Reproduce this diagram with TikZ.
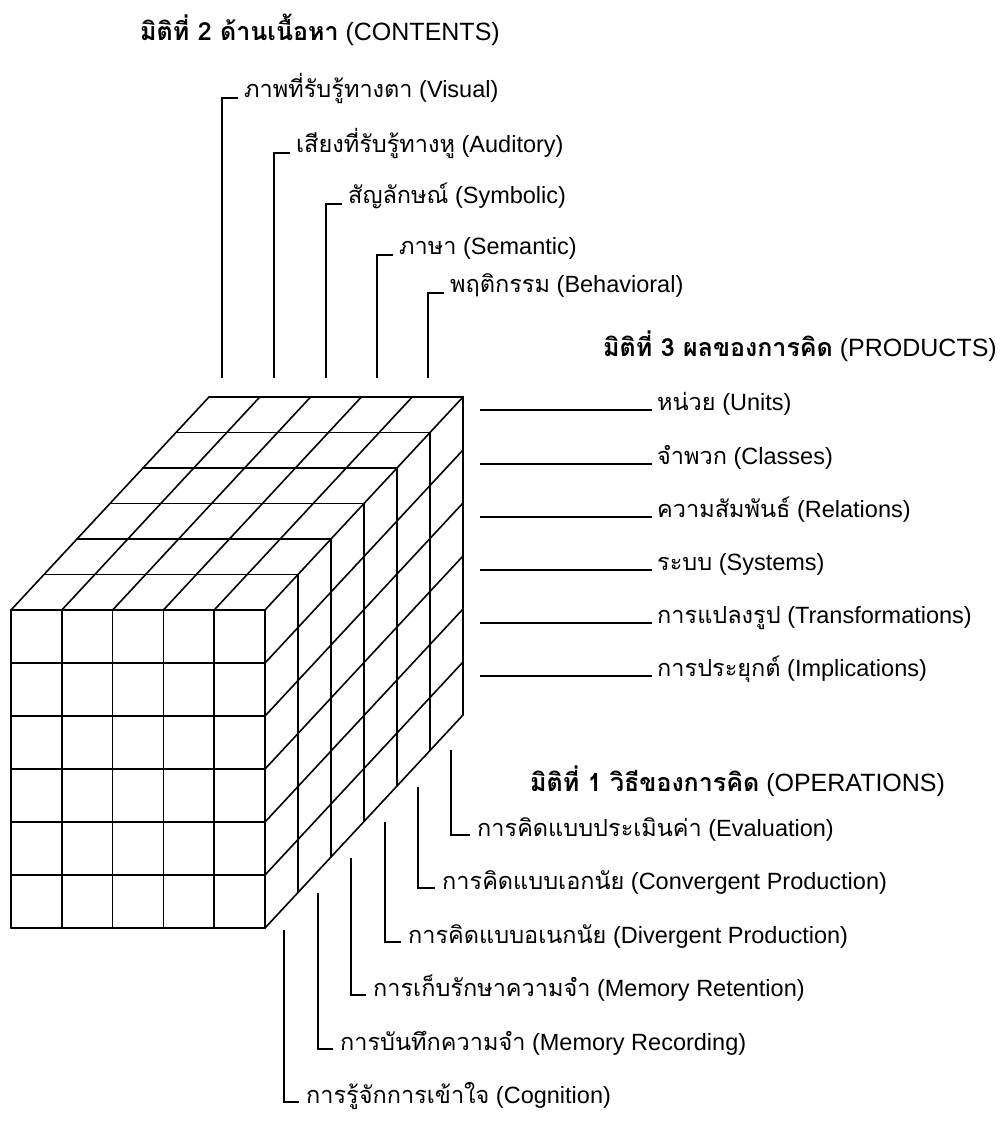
\documentclass[tikz,border=0pt]{standalone}
\usepackage{fontspec}
\setmainfont{Liberation Sans}
\newfontfamily\thaifont[Script=Thai]{Loma}
\usetikzlibrary{positioning, calc}
\newcommand{\thaieng}[2]{{\thaifont #1} (#2)}
\newcommand{\dimhead}[2]{{\thaifont\bfseries #1} (#2)}

\begin{document}
\begin{tikzpicture}[
  x=1pt, y=-1pt,
  every node/.style={font=\fontsize{23.5}{27}\selectfont, inner sep=0pt},
  cubeline/.style={line width=1.6pt, line cap=round, line join=round},
  leader/.style={line width=1.3pt},
  lbl/.style={anchor=base west},
  head/.style={anchor=base west, font=\fontsize{25}{29}\selectfont}
]
  \useasboundingbox (0,0) rectangle (1001,1124);

  %% Cube: front face 5 x 6 cells, 6 layers deep
  \foreach \i in {0,...,6}
    \draw[cubeline] (11,610+53*\i) -- (265,610+53*\i);
  \foreach \j in {0,...,5}
    \draw[cubeline] (11+50.8*\j,610) -- (11+50.8*\j,928);
  %% top face
  \foreach \k in {1,...,6}
    \draw[cubeline] (11+33*\k,610-35.5*\k) -- (265+33*\k,610-35.5*\k);
  \foreach \j in {0,...,5}
    \draw[cubeline] (11+50.8*\j,610) -- (209+50.8*\j,397);
  %% right face
  \foreach \k in {1,...,6}
    \draw[cubeline] (265+33*\k,610-35.5*\k) -- (265+33*\k,928-35.5*\k);
  \foreach \i in {1,...,6}
    \draw[cubeline] (265,610+53*\i) -- (463,397+53*\i);

  %% Headings
  \node[head] (hcont) at (140, 41)  {\dimhead{มิติที่ 2 ด้านเนื้อหา}{CONTENTS}};
  \node[head, anchor=base east] (hprod) at (997, 356) {\dimhead{มิติที่ 3 ผลของการคิด}{PRODUCTS}};
  \node[head] (hoper) at (530, 791) {\dimhead{มิติที่ 1 วิธีของการคิด}{OPERATIONS}};

  %% Contents labels
  \node[lbl] (vis) at (244, 97)  {\thaieng{ภาพที่รับรู้ทางตา}{Visual}};
  \node[lbl] (aud) at (296, 152) {\thaieng{เสียงที่รับรู้ทางหู}{Auditory}};
  \node[lbl] (sym) at (348, 203) {\thaieng{สัญลักษณ์}{Symbolic}};
  \node[lbl] (sem) at (399, 254) {\thaieng{ภาษา}{Semantic}};
  \node[lbl] (beh) at (450, 292) {\thaieng{พฤติกรรม}{Behavioral}};

  \coordinate (cvis) at (222, 378);
  \coordinate (caud) at (274, 378);
  \coordinate (csym) at (326, 378);
  \coordinate (csem) at (377, 378);
  \coordinate (cbeh) at (428, 378);

  \draw[leader] (cvis) |- ([xshift=-6pt, yshift=-1pt]vis.base west);
  \draw[leader] (caud) |- ([xshift=-6pt, yshift=-1pt]aud.base west);
  \draw[leader] (csym) |- ([xshift=-6pt, yshift=-1pt]sym.base west);
  \draw[leader] (csem) |- ([xshift=-6pt, yshift=-1pt]sem.base west);
  \draw[leader] (cbeh) |- ([xshift=-6pt, yshift=-1pt]beh.base west);

  %% Products labels
  \node[lbl] (unit)  at (657, 410) {\thaieng{หน่วย}{Units}};
  \node[lbl] (clas)  at (657, 464) {\thaieng{จำพวก}{Classes}};
  \node[lbl] (rela)  at (657, 517) {\thaieng{ความสัมพันธ์}{Relations}};
  \node[lbl] (syst)  at (657, 570) {\thaieng{ระบบ}{Systems}};
  \node[lbl] (trans) at (657, 623) {\thaieng{การแปลงรูป}{Transformations}};
  \node[lbl] (impl)  at (657, 676) {\thaieng{การประยุกต์}{Implications}};

  \coordinate (punit)  at (480, 410);
  \coordinate (pclas)  at (480, 464);
  \coordinate (prela)  at (480, 517);
  \coordinate (psyst)  at (480, 570);
  \coordinate (ptrans) at (480, 623);
  \coordinate (pimpl)  at (480, 676);

  \draw[leader] (punit)  -- ([xshift=-5pt]unit.base west);
  \draw[leader] (pclas)  -- ([xshift=-5pt]clas.base west);
  \draw[leader] (prela)  -- ([xshift=-5pt]rela.base west);
  \draw[leader] (psyst)  -- ([xshift=-5pt]syst.base west);
  \draw[leader] (ptrans) -- ([xshift=-5pt]trans.base west);
  \draw[leader] (pimpl)  -- ([xshift=-5pt]impl.base west);

  %% Operations labels
  \node[lbl] (eval) at (477, 836)  {\thaieng{การคิดแบบประเมินค่า}{Evaluation}};
  \node[lbl] (conv) at (442, 889)  {\thaieng{การคิดแบบเอกนัย}{Convergent Production}};
  \node[lbl] (dive) at (408, 943)  {\thaieng{การคิดแบบอเนกนัย}{Divergent Production}};
  \node[lbl] (mret) at (373, 996)  {\thaieng{การเก็บรักษาความจำ}{Memory Retention}};
  \node[lbl] (mrec) at (340, 1050) {\thaieng{การบันทึกความจำ}{Memory Recording}};
  \node[lbl] (cogn) at (306, 1103) {\thaieng{การรู้จักการเข้าใจ}{Cognition}};

  \coordinate (oeval) at (451, 750);
  \coordinate (oconv) at (418, 787);
  \coordinate (odive) at (385, 822);
  \coordinate (omret) at (351, 858);
  \coordinate (omrec) at (318, 893);
  \coordinate (ocogn) at (284, 930);

  \draw[leader] (oeval) |- ([xshift=-7pt, yshift=1pt]eval.base west);
  \draw[leader] (oconv) |- ([xshift=-7pt, yshift=1pt]conv.base west);
  \draw[leader] (odive) |- ([xshift=-7pt, yshift=1pt]dive.base west);
  \draw[leader] (omret) |- ([xshift=-7pt, yshift=1pt]mret.base west);
  \draw[leader] (omrec) |- ([xshift=-7pt, yshift=1pt]mrec.base west);
  \draw[leader] (ocogn) |- ([xshift=-7pt, yshift=1pt]cogn.base west);
\end{tikzpicture}
\end{document}
